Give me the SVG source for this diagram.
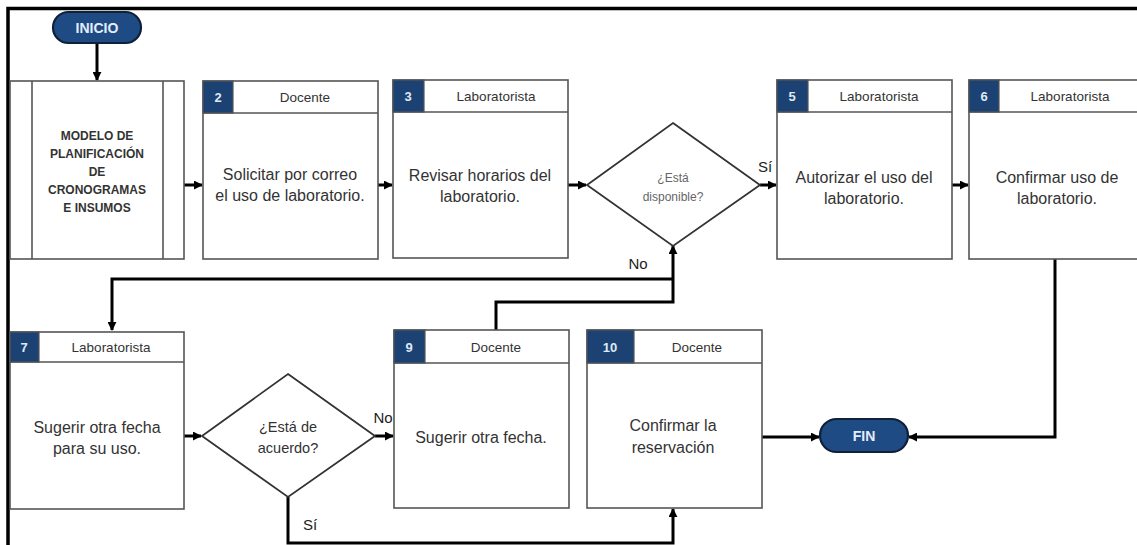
<svg xmlns="http://www.w3.org/2000/svg" width="1137" height="545" viewBox="0 0 1137 545">
  <defs>
    <marker id="arrow" viewBox="0 0 10 10" refX="9" refY="5" markerWidth="9" markerHeight="9" markerUnits="userSpaceOnUse" orient="auto">
      <path d="M0,0 L10,5 L0,10 Z" fill="#000"/>
    </marker>
  </defs>
  <style>
    .frame { stroke: #000; stroke-width: 3.5; fill: none; }
    .box { fill: #fff; stroke: #555; stroke-width: 1.6; }
    .num { fill: #1c4273; stroke: #555; stroke-width: 1.2; }
    .numtxt { font-family: "Liberation Sans", Arial, sans-serif; font-size: 13px; font-weight: bold; fill: #dfe9f5; text-anchor: middle; }
    .role { font-family: "Liberation Sans", Arial, sans-serif; font-size: 13.5px; fill: #333; text-anchor: middle; }
    .body { font-family: "Liberation Sans", Arial, sans-serif; font-size: 16px; fill: #333; text-anchor: middle; }
    .model { font-family: "Liberation Sans", Arial, sans-serif; font-size: 12px; font-weight: bold; fill: #333; text-anchor: middle; }
    .pill { fill: #1f4b85; stroke: #0f2038; stroke-width: 2.2; }
    .pilltxt { font-family: "Liberation Sans", Arial, sans-serif; font-size: 14px; font-weight: bold; fill: #e3eefa; text-anchor: middle; }
    .dia { fill: #fff; stroke: #333; stroke-width: 1.8; }
    .q1 { font-family: "Liberation Sans", Arial, sans-serif; font-size: 12px; fill: #666; text-anchor: middle; }
    .q2 { font-family: "Liberation Sans", Arial, sans-serif; font-size: 14.5px; fill: #333; text-anchor: middle; }
    .conn { fill: none; stroke: #000; stroke-width: 3; }
    .lbl { font-family: "Liberation Sans", Arial, sans-serif; font-size: 15px; fill: #222; text-anchor: middle; }
  </style>

  <!-- outer frame: top and left edges -->
  <path class="frame" d="M8,545 V8.5 H1137"/>

  <!-- connectors -->
  <g id="connectors">
    <path class="conn" d="M97,43 V80" marker-end="url(#arrow)"/>
    <path class="conn" d="M184,185 H202" marker-end="url(#arrow)"/>
    <path class="conn" d="M378,185 H392" marker-end="url(#arrow)"/>
    <path class="conn" d="M568,185 H586" marker-end="url(#arrow)"/>
    <path class="conn" d="M760,185 H776" marker-end="url(#arrow)"/>
    <path class="conn" d="M952,185 H968" marker-end="url(#arrow)"/>
    <path class="conn" d="M1055,259 V437 H909" marker-end="url(#arrow)"/>
    <path class="conn" d="M496,330 V302 H673 V246" marker-end="url(#arrow)"/>
    <path class="conn" d="M673,279 H112 V330" marker-end="url(#arrow)"/>
    <path class="conn" d="M184,436 H201" marker-end="url(#arrow)"/>
    <path class="conn" d="M375,436 H393" marker-end="url(#arrow)"/>
    <path class="conn" d="M288,497 V543 H673 V509" marker-end="url(#arrow)"/>
    <path class="conn" d="M762,437 H819" marker-end="url(#arrow)"/>
    <text class="lbl" x="765" y="172">Sí</text>
    <text class="lbl" x="638" y="269">No</text>
    <text class="lbl" x="383" y="423">No</text>
    <text class="lbl" x="310" y="530">Sí</text>
  </g>

  <!-- start -->
  <g id="inicio">
    <rect class="pill" x="53" y="12" width="88" height="31" rx="15.5"/>
    <text class="pilltxt" x="97" y="33">INICIO</text>
  </g>

  <!-- predefined process -->
  <g id="modelo">
    <rect class="box" x="10" y="81" width="174" height="178"/>
    <line x1="32" y1="81" x2="32" y2="259" stroke="#555" stroke-width="1.6"/>
    <line x1="163" y1="81" x2="163" y2="259" stroke="#555" stroke-width="1.6"/>
    <text class="model" x="97" y="140">MODELO DE</text>
    <text class="model" x="97" y="158">PLANIFICACIÓN</text>
    <text class="model" x="97" y="176">DE</text>
    <text class="model" x="97" y="194">CRONOGRAMAS</text>
    <text class="model" x="97" y="212">E INSUMOS</text>
  </g>

  <g id="n2">
    <rect class="box" x="203" y="81" width="175" height="178"/>
    <line x1="203" y1="113" x2="378" y2="113" stroke="#555" stroke-width="1.6"/>
    <rect class="num" x="203" y="81" width="30" height="32"/>
    <text class="numtxt" x="218" y="102">2</text>
    <text class="role" x="305" y="102">Docente</text>
    <text class="body" x="290" y="180">Solicitar por correo</text>
    <text class="body" x="290" y="201">el uso de laboratorio.</text>
  </g>

  <g id="n3">
    <rect class="box" x="393" y="80" width="175" height="178"/>
    <line x1="393" y1="112" x2="568" y2="112" stroke="#555" stroke-width="1.6"/>
    <rect class="num" x="393" y="80" width="31" height="32"/>
    <text class="numtxt" x="408" y="101">3</text>
    <text class="role" x="496" y="101" font-size="12.5">Laboratorista</text>
    <text class="body" x="480" y="181">Revisar horarios del</text>
    <text class="body" x="480" y="202">laboratorio.</text>
  </g>

  <g id="d4">
    <polygon class="dia" points="673,123 760,185 673,246 587,185"/>
    <text class="q1" x="673" y="182">¿Está</text>
    <text class="q1" x="673" y="201">disponible?</text>
  </g>

  <g id="n5">
    <rect class="box" x="777" y="80" width="175" height="179"/>
    <line x1="777" y1="112" x2="952" y2="112" stroke="#555" stroke-width="1.6"/>
    <rect class="num" x="777" y="80" width="31" height="32"/>
    <text class="numtxt" x="792" y="101">5</text>
    <text class="role" x="879" y="101">Laboratorista</text>
    <text class="body" x="864" y="183">Autorizar el uso del</text>
    <text class="body" x="864" y="204">laboratorio.</text>
  </g>

  <g id="n6">
    <rect class="box" x="969" y="80" width="175" height="179"/>
    <line x1="969" y1="112" x2="1137" y2="112" stroke="#555" stroke-width="1.6"/>
    <rect class="num" x="969" y="80" width="30" height="32"/>
    <text class="numtxt" x="984" y="101">6</text>
    <text class="role" x="1070" y="101">Laboratorista</text>
    <text class="body" x="1057" y="183">Confirmar uso de</text>
    <text class="body" x="1057" y="204">laboratorio.</text>
  </g>

  <g id="n7">
    <rect class="box" x="10" y="332" width="174" height="177"/>
    <line x1="10" y1="362" x2="184" y2="362" stroke="#555" stroke-width="1.6"/>
    <rect class="num" x="10" y="332" width="29" height="30"/>
    <text class="numtxt" x="24" y="352">7</text>
    <text class="role" x="111" y="352">Laboratorista</text>
    <text class="body" x="97" y="433">Sugerir otra fecha</text>
    <text class="body" x="97" y="454">para su uso.</text>
  </g>

  <g id="d8">
    <polygon class="dia" points="288,374 375,436 288,497 202,436"/>
    <text class="q2" x="288" y="432">¿Está de</text>
    <text class="q2" x="288" y="453">acuerdo?</text>
  </g>

  <g id="n9">
    <rect class="box" x="394" y="330" width="175" height="178"/>
    <line x1="394" y1="363" x2="569" y2="363" stroke="#555" stroke-width="1.6"/>
    <rect class="num" x="394" y="330" width="31" height="33"/>
    <text class="numtxt" x="409" y="352">9</text>
    <text class="role" x="496" y="352">Docente</text>
    <text class="body" x="481" y="443">Sugerir otra fecha.</text>
  </g>

  <g id="n10">
    <rect class="box" x="587" y="330" width="175" height="178"/>
    <line x1="587" y1="363" x2="762" y2="363" stroke="#555" stroke-width="1.6"/>
    <rect class="num" x="587" y="330" width="47" height="33"/>
    <text class="numtxt" x="610" y="352">10</text>
    <text class="role" x="697" y="352">Docente</text>
    <text class="body" x="673" y="431">Confirmar la</text>
    <text class="body" x="673" y="453">reservación</text>
  </g>

  <!-- end -->
  <g id="fin">
    <rect class="pill" x="820" y="419" width="88" height="33" rx="16.5"/>
    <text class="pilltxt" x="864" y="441">FIN</text>
  </g>
</svg>
